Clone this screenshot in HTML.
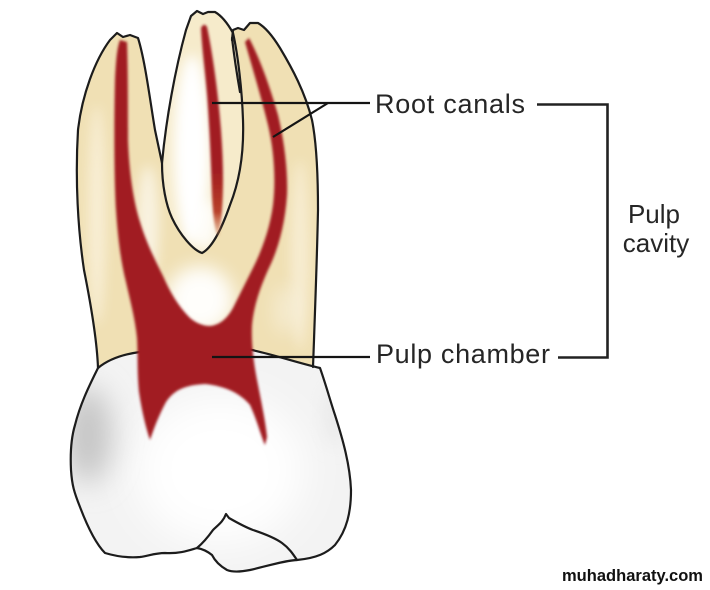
<!DOCTYPE html>
<html><head><meta charset="utf-8"><style>
html,body{margin:0;padding:0;background:#fff;}
svg{display:block;}
text{font-family:"Liberation Sans",Arial,sans-serif;fill:#262626;}
</style></head><body>
<svg width="710" height="590" viewBox="0 0 710 590" xmlns="http://www.w3.org/2000/svg">
<defs>
  <filter id="b1" x="-20%" y="-20%" width="140%" height="140%"><feGaussianBlur stdDeviation="1.3"/></filter>
  <filter id="b6" x="-50%" y="-50%" width="200%" height="200%"><feGaussianBlur stdDeviation="6"/></filter>
  <filter id="b9" x="-80%" y="-80%" width="260%" height="260%"><feGaussianBlur stdDeviation="9"/></filter>
  <filter id="b14" x="-100%" y="-100%" width="300%" height="300%"><feGaussianBlur stdDeviation="14"/></filter>
  <filter id="b20" x="-100%" y="-100%" width="300%" height="300%"><feGaussianBlur stdDeviation="20"/></filter>
  <clipPath id="rootClip"><path d="M98,368 C97,340 90,300 84,270 C78,230 75,180 78,130 C82,95 95,60 110,40 L117,33 L123,37 L130,35 L138,38 C145,60 150,100 155,130 L162,163 C166,120 175,70 186,30 L191,16 L197,11 L203,14 L208,12 L215,12 C222,16 228,24 232,33 L233,30 L238,28 L244,30 L250,23 L258,23 C265,27 272,35 280,48 C292,68 305,92 312,120 C317,145 318,180 318,210 C317,260 315,310 314,340 L313,367 C290,362 270,354 252,350 L140,352 C125,354 110,358 98,368 Z"/></clipPath>
  <clipPath id="midClip"><path d="M162,163 C166,120 175,70 186,30 L191,16 L197,11 L203,14 L208,12 L215,12 C222,16 228,24 233,33 C238,55 242,90 243,120 C244,150 240,180 230,205 C222,228 212,248 202,253 C193,250 180,235 172,218 C166,205 162,185 162,163 Z"/></clipPath>
  <clipPath id="crownClip"><path d="M98,368 C110,358 125,354 140,352 C180,346 230,346 252,350 C275,355 295,362 320,368 C326,385 330,400 335,415 C343,440 350,465 351,490 C351,512 347,530 335,545 C327,553 317,558 297,560 C282,561 268,566 250,570 C240,572 232,572 227,570 C220,566 215,561 212,555 C207,551 203,549 197,548 C190,550 180,554 165,553 C155,553 148,556 140,557 C128,558 115,556 105,553 C97,545 88,528 80,507 C74,492 72,485 71,470 C70,450 72,435 75,425 C80,405 88,388 98,368 Z"/></clipPath>
  <linearGradient id="midCanal" x1="0" y1="170" x2="0" y2="240" gradientUnits="userSpaceOnUse">
    <stop offset="0" stop-color="#a11c20"/>
    <stop offset="0.6" stop-color="#b8402a"/>
    <stop offset="1" stop-color="#d9915a" stop-opacity="0.3"/>
  </linearGradient>
</defs>

<!-- Roots base -->
<path d="M98,368 C97,340 90,300 84,270 C78,230 75,180 78,130 C82,95 95,60 110,40 L117,33 L123,37 L130,35 L138,38 C145,60 150,100 155,130 L162,163 C166,120 175,70 186,30 L191,16 L197,11 L203,14 L208,12 L215,12 C222,16 228,24 232,33 L233,30 L238,28 L244,30 L250,23 L258,23 C265,27 272,35 280,48 C292,68 305,92 312,120 C317,145 318,180 318,210 C317,260 315,310 314,340 L313,367 C290,362 270,354 252,350 L140,352 C125,354 110,358 98,368 Z" fill="#f0e0b4"/>

<!-- root glows -->
<g clip-path="url(#rootClip)">
  <ellipse cx="97" cy="215" rx="9" ry="110" fill="#fffaf0" opacity="0.55" filter="url(#b6)"/>
  <ellipse cx="148" cy="225" rx="11" ry="60" fill="#ffffff" opacity="0.6" filter="url(#b6)"/>
  <ellipse cx="200" cy="300" rx="34" ry="34" fill="#ffffff" opacity="0.95" filter="url(#b9)"/>
  <ellipse cx="300" cy="255" rx="9" ry="95" fill="#fffaf0" opacity="0.5" filter="url(#b6)"/>
  <ellipse cx="285" cy="310" rx="12" ry="25" fill="#ffffff" opacity="0.35" filter="url(#b9)"/>
</g>
<g clip-path="url(#midClip)">
  <rect x="150" y="0" width="100" height="260" fill="#f6ebcb"/>
  <ellipse cx="192" cy="150" rx="18" ry="95" fill="#ffffff" filter="url(#b6)"/>
  <ellipse cx="205" cy="225" rx="14" ry="25" fill="#ffffff" opacity="0.8" filter="url(#b6)"/>
</g>

<!-- Crown -->
<path d="M98,368 C110,358 125,354 140,352 C180,346 230,346 252,350 C275,355 295,362 320,368 C326,385 330,400 335,415 C343,440 350,465 351,490 C351,512 347,530 335,545 C327,553 317,558 297,560 C282,561 268,566 250,570 C240,572 232,572 227,570 C220,566 215,561 212,555 C207,551 203,549 197,548 C190,550 180,554 165,553 C155,553 148,556 140,557 C128,558 115,556 105,553 C97,545 88,528 80,507 C74,492 72,485 71,470 C70,450 72,435 75,425 C80,405 88,388 98,368 Z" fill="#f3f3f3"/>
<g clip-path="url(#crownClip)">
  <ellipse cx="220" cy="470" rx="85" ry="75" fill="#ffffff" filter="url(#b20)"/>
  <ellipse cx="88" cy="435" rx="24" ry="48" fill="#c6c6c6" filter="url(#b14)"/>
  <ellipse cx="335" cy="415" rx="10" ry="30" fill="#e9e9e9" filter="url(#b9)"/>
</g>

<!-- Outlines -->
<g fill="none" stroke="#1c1c1c" stroke-width="2.2" stroke-linejoin="round" stroke-linecap="round">
  <path d="M98,368 C97,340 90,300 84,270 C78,230 75,180 78,130 C82,95 95,60 110,40 L117,33 L123,37 L130,35 L138,38 C145,60 150,100 155,130 L162,163"/>
  <path d="M162,163 C166,120 175,70 186,30 L191,16 L197,11 L203,14 L208,12 L215,12 C222,16 228,24 233,33 C238,55 242,90 243,120 C244,150 240,180 230,205 C222,228 212,248 202,253 C193,250 180,235 172,218 C166,205 162,185 162,163 Z"/>
  <path d="M232,40 L233,30 L238,28 L244,30 L250,23 L258,23 C265,27 272,35 280,48 C292,68 305,92 312,120 C317,145 318,180 318,210 C317,260 315,310 314,340 L313,367"/>
  <path d="M232,38 C234,55 237,75 240,92"/>
  <path d="M98,368 C110,358 125,354 140,352 C180,346 230,346 252,350 C275,355 295,362 320,368 C326,385 330,400 335,415 C343,440 350,465 351,490 C351,512 347,530 335,545 C327,553 317,558 297,560 C282,561 268,566 250,570 C240,572 232,572 227,570 C220,566 215,561 212,555 C207,551 203,549 197,548 C190,550 180,554 165,553 C155,553 148,556 140,557 C128,558 115,556 105,553 C97,545 88,528 80,507 C74,492 72,485 71,470 C70,450 72,435 75,425 C80,405 88,388 98,368 Z"/>
  <path d="M197,548 C203,543 208,537 213,530 C218,525 223,522 226,514 L229,518 C236,522 245,527 253,530 C265,534 275,538 282,543 C289,548 293,554 297,560"/>
</g>

<!-- Pulp -->
<g filter="url(#b1)">
  <path fill="#a11c20" d="M150,440 C146,428 142,412 139,392 C137,372 138,355 137,338 C135,318 130,300 126,282 C121,262 118,240 116,210 C114,175 114,120 115,80 C116,60 117,48 120,40 L127,42 C128,70 128,110 128,140 C129,170 133,200 140,222 C146,242 155,260 163,276 C170,292 178,306 190,318 C196,323 203,326 210,326 C220,325 228,318 234,306 C240,294 246,282 253,268 C262,250 270,228 273,205 C276,180 274,150 268,125 C262,100 253,70 245,42 L249,38 C258,55 268,80 278,115 C284,140 288,170 287,195 C285,225 278,250 268,270 C260,288 254,305 252,325 C251,345 254,365 258,385 C262,405 266,425 267,437 L265,445 C261,436 257,420 250,405 C240,393 225,386 205,384 C185,385 174,390 166,402 C159,415 154,428 150,440 Z"/>
  <path fill="url(#midCanal)" d="M201,28 Q204,22 207,27 C212,50 218,90 221,130 C224,170 224,205 219,236 C215,236 213,215 212,195 C211,160 209,120 207,95 C205,70 202,50 201,28 Z"/>
</g>

<!-- Leader lines -->
<g fill="none" stroke="#141414" stroke-width="2.2">
  <path d="M212,103 L370,103"/>
  <path d="M273,137 L328,103"/>
  <path d="M212,357 L370,357"/>
</g>
<path d="M537,104.5 L607.5,104.5 L607.5,357.5 L558,357.5" fill="none" stroke="#222" stroke-width="2.6"/>

<!-- Labels -->
<text x="375" y="113" font-size="27" textLength="150" lengthAdjust="spacing">Root canals</text>
<text x="376" y="363" font-size="27" textLength="174" lengthAdjust="spacing">Pulp chamber</text>
<text x="654" y="223" font-size="26" text-anchor="middle">Pulp</text>
<text x="656" y="252" font-size="26" text-anchor="middle">cavity</text>
<text x="562" y="581" font-size="16.5" font-weight="bold" textLength="141" lengthAdjust="spacingAndGlyphs" style="fill:#111">muhadharaty.com</text>
</svg>
</body></html>
